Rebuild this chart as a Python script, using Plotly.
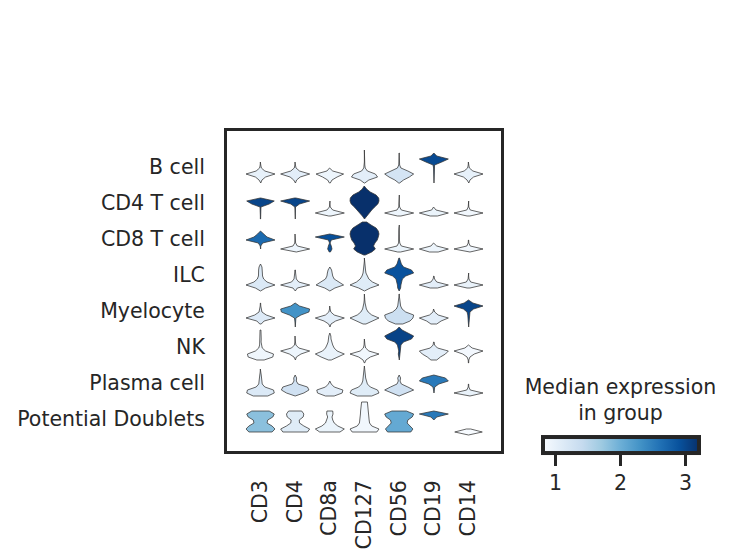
import plotly.graph_objects as go
from plotly.colors import sample_colorscale

genes = ['CD3', 'CD4', 'CD8a', 'CD127', 'CD56', 'CD19', 'CD14']
groups = ['B cell', 'CD4 T cell', 'CD8 T cell', 'ILC', 'Myelocyte', 'NK',
          'Plasma cell', 'Potential Doublets']

# median expression per group (one list per group, in gene order)
med_bcell = [0.99, 1.04, 0.92, 1.04, 1.23, 2.96, 0.99]
med_cd4t = [3.01, 3.01, 0.92, 3.20, 0.92, 0.94, 0.87]
med_cd8t = [2.67, 0.92, 2.91, 3.20, 0.94, 0.92, 0.87]
med_ilc = [1.14, 1.04, 1.14, 1.09, 2.89, 1.04, 0.97]
med_myelo = [1.11, 2.29, 1.04, 1.09, 1.33, 1.04, 3.01]
med_nk = [0.90, 0.92, 0.97, 0.87, 3.03, 1.04, 0.85]
med_plasma = [1.14, 1.28, 1.04, 1.09, 1.28, 2.53, 0.97]
med_doublet = [1.81, 1.09, 0.94, 0.87, 2.05, 2.53, 0.80]

# violin half-width profiles (relative density) at evenly spaced expression levels, bottom -> top
N = None
vio_bcell = [
    [0.02, 0.1, 0.35, 1.0, 0.3, 0.06, 0.02, 0.01],
    [0.02, 0.1, 0.35, 1.0, 0.3, 0.06, 0.02, 0.01],
    [0.03, 0.15, 0.5, 0.95, 0.2, 0.02],
    [0.02, 0.3, 0.9, 0.75, 0.2, 0.05, 0.02, 0.01, 0.01, 0.01, 0.01, 0.01],
    [0.03, 0.3, 0.7, 1.0, 0.6, 0.12, 0.03, 0.01, 0.01, 0.01, 0.01],
    [0.01, 0.01, 0.01, 0.01, 0.01, 0.02, 0.05, 0.55, 1.0, 0.2, 0.0],
    [0.02, 0.1, 0.35, 1.0, 0.3, 0.06, 0.02, 0.01],
]
vio_cd4t = [
    [0.01, 0.01, 0.01, 0.01, 0.03, 0.6, 0.95, 0.02],
    [0.01, 0.01, 0.01, 0.01, 0.02, 0.3, 1.0, 0.05],
    [N, 0.08, 1.0, 0.2, 0.03, 0.01, 0.01],
    [0.0, 0.15, 0.35, 0.5, 0.7, 0.92, 1.0, 0.98, 0.8, 0.4, 0.15, 0.02],
    [N, 0.12, 1.0, 0.15, 0.03, 0.01, 0.01, 0.01, 0.01],
    [N, 0.25, 1.0, 0.15, 0.02],
    [N, 0.1, 1.0, 0.12, 0.02, 0.01, 0.01],
]
vio_cd8t = [
    [N, N, 0.01, 0.02, 0.15, 1.0, 0.45, 0.2, 0.0],
    [N, 0.08, 1.0, 0.15, 0.03, 0.02, 0.01, 0.01],
    [N, 0.04, 0.15, 0.1, 0.02, 0.1, 1.0, 0.0],
    [0.05, 0.5, 0.75, 0.62, 0.72, 0.88, 0.95, 1.0, 0.95, 0.8, 0.45, 0.15],
    [N, 0.1, 1.0, 0.15, 0.04, 0.02, 0.02, 0.02, 0.03, 0.02, 0.01],
    [N, 0.3, 1.0, 0.2, 0.02],
    [N, 0.1, 1.0, 0.12, 0.02, 0.01],
]
vio_ilc = [
    [0.0, 0.35, 1.0, 0.45, 0.22, 0.14, 0.13, 0.13, 0.1, 0.0],
    [0.01, 0.15, 1.0, 0.25, 0.08, 0.04, 0.03, 0.02],
    [0.0, 0.35, 0.95, 0.6, 0.3, 0.2, 0.17, 0.12, 0.0],
    [0.0, 0.4, 1.0, 0.55, 0.3, 0.17, 0.1, 0.07, 0.05, 0.03, 0.01, 0.01],
    [0.0, 0.1, 0.12, 0.15, 0.22, 0.45, 1.0, 0.85, 0.3, 0.15, 0.1, 0.02],
    [N, 0.25, 1.0, 0.2, 0.05, 0.01],
    [N, 0.1, 1.0, 0.15, 0.03, 0.01, 0.01],
]
vio_myelo = [
    [N, 0.05, 0.25, 1.0, 0.4, 0.1, 0.04, 0.02, 0.01],
    [0.01, 0.01, 0.02, 0.05, 0.4, 0.95, 1.0, 0.3, 0.0],
    [0.01, 0.08, 0.4, 1.0, 0.3, 0.07, 0.02, 0.01],
    [N, 0.1, 0.6, 1.0, 0.5, 0.25, 0.13, 0.07, 0.04, 0.02, 0.01, 0.01],
    [N, 0.25, 0.75, 0.95, 1.0, 0.45, 0.2, 0.1, 0.06, 0.03, 0.02, 0.01],
    [N, 0.2, 0.5, 1.0, 0.3, 0.06, 0.02],
    [0.01, 0.02, 0.02, 0.03, 0.05, 0.1, 0.35, 1.0, 0.3, 0.0],
]
vio_nk = [
    [N, 0.25, 0.85, 0.9, 0.35, 0.12, 0.06, 0.04, 0.05, 0.06, 0.04, 0.03],
    [N, 0.02, 0.08, 0.4, 1.0, 0.25, 0.05, 0.02, 0.01, 0.01],
    [N, 0.1, 0.6, 1.0, 0.5, 0.3, 0.2, 0.12, 0.08, 0.07, 0.0],
    [0.01, 0.1, 0.4, 1.0, 0.3, 0.08, 0.03, 0.02, 0.01],
    [N, 0.01, 0.03, 0.06, 0.03, 0.05, 0.12, 0.3, 0.85, 1.0, 0.6, 0.2, 0.0],
    [N, 0.2, 0.45, 0.8, 1.0, 0.25, 0.05, 0.02],
    [0.01, 0.02, 0.1, 0.4, 1.0, 0.25, 0.0],
]
vio_plasma = [
    [N, 0.5, 0.95, 0.9, 0.3, 0.12, 0.08, 0.06, 0.05, 0.02, 0.01],
    [N, 0.0, 0.6, 0.95, 0.85, 0.2, 0.08, 0.1, 0.0],
    [N, 0.3, 0.85, 0.9, 0.3, 0.1, 0.0],
    [N, 0.5, 1.0, 0.9, 0.4, 0.2, 0.12, 0.08, 0.06, 0.05, 0.03, 0.01],
    [N, 0.0, 0.5, 1.0, 0.6, 0.15, 0.06, 0.1, 0.0],
    [N, N, 0.01, 0.02, 0.06, 0.35, 1.0, 0.8, 0.0],
    [N, 0.1, 1.0, 0.12, 0.02, 0.01],
]
vio_doublet = [
    [N, 0.8, 1.0, 0.8, 0.45, 0.5, 0.85, 0.95, 0.6],
    [N, 0.85, 1.0, 0.6, 0.3, 0.28, 0.55, 0.6, 0.45],
    [N, 0.7, 1.0, 0.55, 0.3, 0.2, 0.15, 0.22, 0.2],
    [N, 0.85, 1.0, 0.5, 0.35, 0.32, 0.3, 0.28, 0.27, 0.25, 0.24, 0.2],
    [N, 0.8, 0.95, 0.75, 0.55, 0.6, 0.9, 1.0, 0.5],
    [N, N, N, N, N, 0.0, 0.2, 1.0, 0.0],
    [0.0, 0.95, 0.15],
]

medians = [med_bcell, med_cd4t, med_cd8t, med_ilc, med_myelo, med_nk, med_plasma, med_doublet]
profiles = [vio_bcell, vio_cd4t, vio_cd8t, vio_ilc, vio_myelo, vio_nk, vio_plasma, vio_doublet]

VMIN, VMAX = 0.8, 3.2
BLUES = 'Blues'
INK = '#262626'
FONT = 'DejaVu Sans'
FS = 20.5
W, H = 732, 558
HALF = 0.418          # max half-width of a violin, in column units
LEVEL0, STEP = 2 / 36, 3 / 36   # expression level positions inside a row band

fig = go.Figure()
n = len(groups)
for r, g in enumerate(groups):
    band = n - 1 - r
    for c, gene in enumerate(genes):
        prof = profiles[r][c]
        pts = [(LEVEL0 + STEP * k, w) for k, w in enumerate(prof) if w is not None]
        ys = [band + h for h, _ in pts]
        xr = [c + w * HALF for _, w in pts]
        xl = [c - w * HALF for _, w in pts]
        xs = xr + xl[::-1] + [xr[0]]
        yy = ys + ys[::-1] + [ys[0]]
        t = (medians[r][c] - VMIN) / (VMAX - VMIN)
        col = sample_colorscale(BLUES, [min(max(t, 0), 1)])[0]
        fig.add_trace(go.Scatter(
            x=xs, y=yy, mode='lines', fill='toself', fillcolor=col,
            line=dict(color='#333333', width=0.75), hoverinfo='skip',
            showlegend=False))

# colour bar
fig.add_trace(go.Scatter(
    x=[None], y=[None], mode='markers', showlegend=False, hoverinfo='skip',
    marker=dict(color=[VMIN, VMAX], cmin=VMIN, cmax=VMAX, colorscale=BLUES,
                showscale=True,
                colorbar=dict(
                    orientation='h', x=620.5 / W, xanchor='center',
                    y=1 - 442 / H, yanchor='middle',
                    lenmode='pixels', len=156, thickness=16,
                    outlinewidth=4, outlinecolor=INK, xpad=0, ypad=0,
                    tickvals=[1, 2, 3], ticks='outside', ticklen=11,
                    tickwidth=2.5, tickcolor=INK,
                    tickfont=dict(family=FONT, size=FS, color=INK),
                    title=dict(text='Median expression<br>in group', side='top',
                               font=dict(family=FONT, size=FS, color=INK))))))

fig.update_layout(
    width=W, height=H, margin=dict(l=0, r=0, t=0, b=0),
    paper_bgcolor='white', plot_bgcolor='white',
    font=dict(family=FONT, size=FS, color=INK),
    xaxis=dict(domain=[227 / W, 501 / W], range=[-0.966, 6.937],
               tickvals=list(range(len(genes))), ticktext=genes,
               tickangle=-90, ticks='', ticklabelstandoff=18,
               showgrid=False, zeroline=False, showline=True, mirror=True,
               linewidth=3, linecolor=INK, automargin=False,
               tickfont=dict(family=FONT, size=FS, color=INK)),
    yaxis=dict(domain=[1 - 451 / H, 1 - 131 / H], range=[-0.389, 8.5],
               tickvals=[n - 1 - r + 0.5 for r in range(n)], ticktext=groups,
               ticks='', ticklabelstandoff=15,
               showgrid=False, zeroline=False, showline=True, mirror=True,
               linewidth=3, linecolor=INK, automargin=False,
               tickfont=dict(family=FONT, size=FS, color=INK)),
)

fig.write_html('out.html')
